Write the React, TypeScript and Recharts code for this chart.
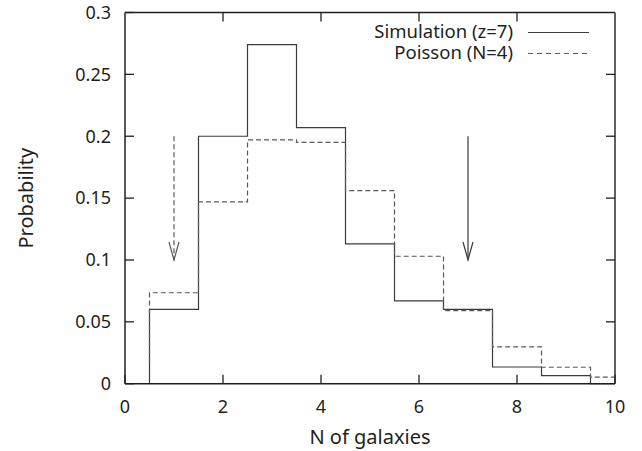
import React from 'react';
import { ComposedChart, Line, XAxis, YAxis, ReferenceLine } from 'recharts';

// Histogram bins (centred on integer galaxy counts)
const binCenters = [1, 2, 3, 4, 5, 6, 7, 8, 9, 10];
const simulation = [0.06, 0.2, 0.274, 0.207, 0.113, 0.067, 0.06, 0.0135, 0.0065, 0];
const poisson = [0.0735, 0.147, 0.197, 0.195, 0.156, 0.103, 0.059, 0.0298, 0.0133, 0.0053];
const poissonZero = 0.018;

const xDomain = [0, 10];
const yDomain = [0, 0.3];
const xTicks = [0, 2, 4, 6, 8, 10];
const yTicks = [0, 0.05, 0.1, 0.15, 0.2, 0.25, 0.3];

const arrowXs = [1, 7];
const arrowStyles = ['dashed', 'solid'];
const arrowFrom = 0.2;
const arrowTo = 0.1;

const seriesNames = ['Simulation (z=7)', 'Poisson (N=4)'];

const simSteps = [
  { x: binCenters[0] - 0.5, y: 0 },
  ...binCenters.slice(0, 9).map((c, i) => ({ x: c - 0.5, y: simulation[i] })),
  { x: binCenters[9] - 0.5, y: simulation[9] },
  { x: xDomain[1], y: 0 },
];

const poissonSteps = [
  { x: binCenters[0] - 0.5, y: poissonZero },
  ...binCenters.map((c, i) => ({ x: c - 0.5, y: poisson[i] })),
  { x: xDomain[1], y: poisson[poisson.length - 1] },
];

const arrowData = arrowXs.map((ax) => [
  { x: ax, y: arrowFrom },
  { x: ax, y: arrowTo },
]);

const INK = '#231f20';
const SIM = '#3c3a3b';
const POI = '#5a5859';
const FONT = '"Noto Sans", "Open Sans", sans-serif';
const TICK = 9;

const makeArrowHead = (color: string) => (p: any) => {
  if (p.index !== 1) return <g key={`ah${p.index}`} />;
  const { cx, cy } = p;
  return (
    <polyline
      key={`ah${p.index}`}
      points={`${cx - 5},${cy - 18} ${cx},${cy} ${cx + 5},${cy - 18}`}
      fill="none"
      stroke={color}
      strokeWidth={1.2}
    />
  );
};

// inward tick mark at the top / right end of a reference line spanning the plot
const FarTick = (props: any) => {
  const { x1, y1, x2, y2 } = props;
  const dx = x2 - x1;
  const dy = y2 - y1;
  const len = Math.hypot(dx, dy) || 1;
  const ux = (dx / len) * TICK;
  const uy = (dy / len) * TICK;
  return <line x1={x2} y1={y2} x2={x2 - ux} y2={y2 - uy} stroke={INK} strokeWidth={1.3} />;
};

const LegendOverlay = () => (
  <svg width={642} height={70} style={{ position: 'absolute', left: 0, top: 0, pointerEvents: 'none' }}>
    <text x={513} y={38} textAnchor="end" fontSize={18.5} fill={INK} fontFamily={FONT}>
      {seriesNames[0]}
    </text>
    <line x1={528} y1={32.5} x2={589} y2={32.5} stroke={SIM} strokeWidth={1.2} />
    <text x={513} y={59} textAnchor="end" fontSize={18.5} fill={INK} fontFamily={FONT}>
      {seriesNames[1]}
    </text>
    <line x1={528} y1={53.5} x2={589} y2={53.5} stroke={POI} strokeWidth={1.2} strokeDasharray="5 4" />
  </svg>
);

export default function App() {
  return (
    <div style={{ position: 'absolute', left: 0, top: 0, fontFamily: FONT }}>
      <ComposedChart width={642} height={451} margin={{ top: 12.5, right: 27, bottom: 0, left: 0 }}>
        <XAxis
          type="number"
          dataKey="x"
          domain={xDomain}
          ticks={xTicks}
          height={67.3}
          axisLine={{ stroke: INK, strokeWidth: 1.5 }}
          tickSize={-9}
          tickMargin={26}
          tick={{ fontSize: 18, fill: INK }}
          tickLine={{ stroke: INK, strokeWidth: 1.3 }}
          label={{ value: 'N of galaxies', position: 'insideBottom', offset: 7, fontSize: 20, fill: INK }}
        />
        <YAxis
          type="number"
          domain={yDomain}
          ticks={yTicks}
          width={125}
          axisLine={{ stroke: INK, strokeWidth: 1.5 }}
          tickSize={-9}
          tickMargin={23}
          tick={{ fontSize: 18, fill: INK }}
          tickLine={{ stroke: INK, strokeWidth: 1.3 }}
          label={{
            content: (p: any) => (
              <text
                x={p.viewBox.x + 26}
                y={p.viewBox.y + p.viewBox.height / 2}
                transform={`rotate(-90 ${p.viewBox.x + 26} ${p.viewBox.y + p.viewBox.height / 2})`}
                textAnchor="middle"
                dominantBaseline="central"
                fontSize={20}
                fill={INK}
              >
                Probability
              </text>
            ),
          }}
        />
        <ReferenceLine x={xDomain[1]} stroke={INK} strokeWidth={1.4} />
        <ReferenceLine y={yDomain[1]} stroke={INK} strokeWidth={1.4} />
        {xTicks.slice(1, -1).map((t) => (
          <ReferenceLine key={`xt${t}`} x={t} stroke="none" shape={(p: any) => <FarTick {...p} />} />
        ))}
        {yTicks.slice(1, -1).map((t) => (
          <ReferenceLine key={`yt${t}`} y={t} stroke="none" shape={(p: any) => <FarTick {...p} />} />
        ))}
        <Line
          data={simSteps}
          dataKey="y"
          name={seriesNames[0]}
          type="stepAfter"
          stroke={SIM}
          strokeWidth={1.2}
          dot={false}
          activeDot={false}
          isAnimationActive={false}
        />
        <Line
          data={poissonSteps}
          dataKey="y"
          name={seriesNames[1]}
          type="stepAfter"
          stroke={POI}
          strokeWidth={1.2}
          strokeDasharray="5 3"
          dot={false}
          activeDot={false}
          isAnimationActive={false}
        />
        {arrowData.map((d, i) => {
          const color = arrowStyles[i] === 'dashed' ? POI : SIM;
          return (
            <Line
              key={`arrow${i}`}
              data={d}
              dataKey="y"
              type="linear"
              stroke={color}
              strokeWidth={1.2}
              strokeDasharray={arrowStyles[i] === 'dashed' ? '5 3' : undefined}
              dot={makeArrowHead(color)}
              activeDot={false}
              legendType="none"
              isAnimationActive={false}
            />
          );
        })}
      </ComposedChart>
      <LegendOverlay />
    </div>
  );
}
